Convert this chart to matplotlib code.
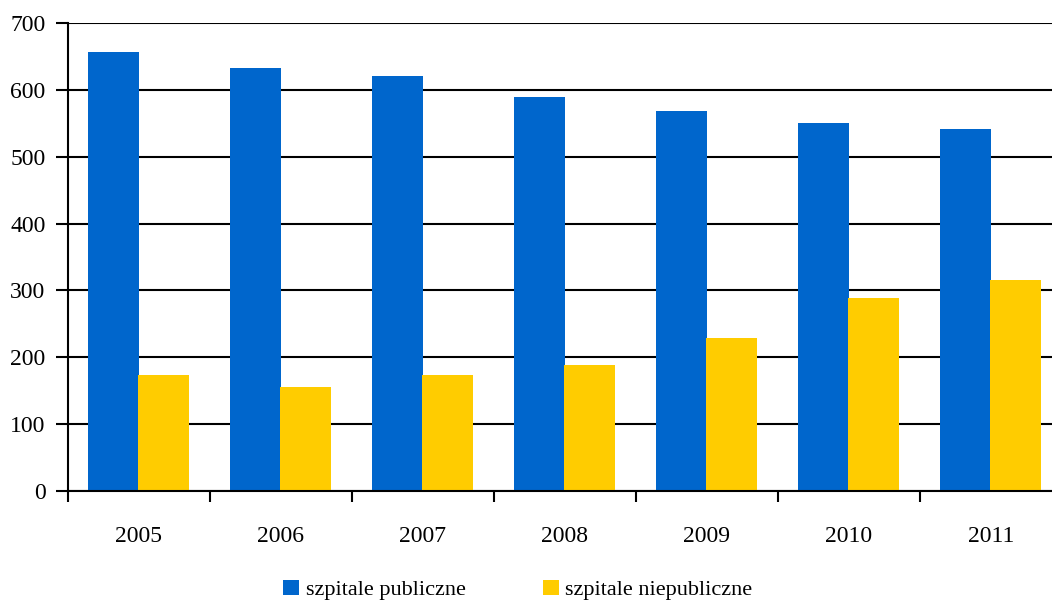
import numpy as np
import matplotlib
matplotlib.use('Agg')
import matplotlib.pyplot as plt

# --- data ---
years = ['2005', '2006', '2007', '2008', '2009', '2010', '2011']
publiczne = [656, 632, 620, 590, 569, 551, 542]
niepubliczne = [173, 155, 173, 188, 229, 289, 316]
series_labels = ['szpitale publiczne', 'szpitale niepubliczne']
y_ticks = [0, 100, 200, 300, 400, 500, 600, 700]

BLUE = '#0066CC'
YELLOW = '#FFCC00'

plt.rcParams['font.family'] = ['Liberation Serif', 'DejaVu Serif']

fig = plt.figure(figsize=(10.52, 6.01), dpi=100)
# axes run past the right edge, as in the reference (last category is clipped)
ax = fig.add_axes([67.7 / 1052, 110 / 601, 994 / 1052, 468 / 601])

x = np.arange(len(years))
w = 0.36
ax.bar(x - w / 2 + 0.005, publiczne, width=w, color=BLUE, label=series_labels[0], zorder=3)
ax.bar(x + w / 2 - 0.005, niepubliczne, width=w, color=YELLOW, label=series_labels[1], zorder=3)

ax.set_xlim(-0.5, len(years) - 0.5)
ax.set_ylim(0, 700)
ax.set_yticks(y_ticks)
ax.yaxis.grid(True, color='black', linewidth=1.5, zorder=0)
ax.set_axisbelow(True)

ax.set_xticks(x)
ax.set_xticklabels(years)
ax.set_xticks(np.arange(len(years) + 1) - 0.5, minor=True)
ax.tick_params(axis='x', which='major', length=0, pad=25, labelsize=17)
ax.tick_params(axis='x', which='minor', length=8, width=1.5, direction='out')
ax.tick_params(axis='y', length=9, width=1.5, direction='out', pad=7, labelsize=17)

for s in ['top', 'right']:
    ax.spines[s].set_visible(False)
for s in ['left', 'bottom']:
    ax.spines[s].set_linewidth(1.5)
    ax.spines[s].set_zorder(4)

fig.legend(loc='center', bbox_to_anchor=(518 / 1052, 1 - 590 / 601), ncol=2,
           frameon=False, fontsize=16, handlelength=0.7, handleheight=0.7,
           handletextpad=0.3, columnspacing=3.5)

fig.savefig('out.png', dpi=100)
